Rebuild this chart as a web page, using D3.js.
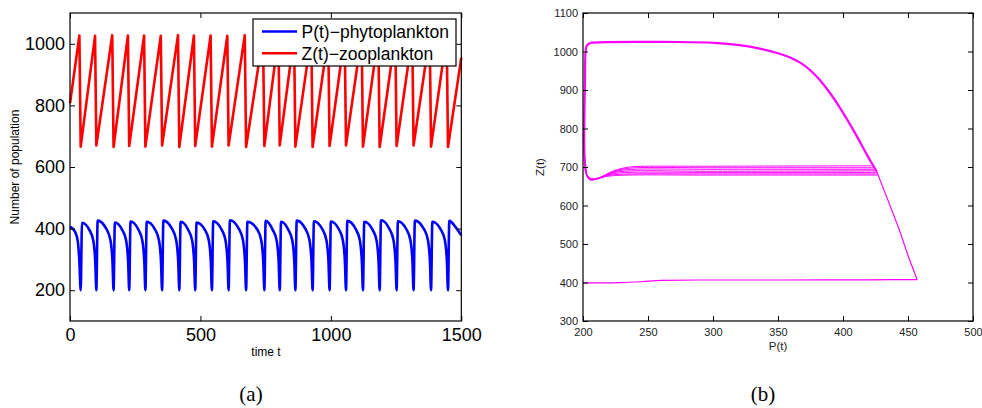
<!DOCTYPE html>
<html>
<head>
<meta charset="utf-8">
<script src="https://cdn.jsdelivr.net/npm/d3@7"></script>
<style>
  body { margin: 0; background: #fff; }
  text { font-family: "Liberation Sans", Arial, Helvetica, sans-serif; }
</style>
</head>
<body>
<div id="chart"></div>
<script>
// ---- data ----
// (a) time series, [t, value]
const zooplankton = [
  [0,807],[36,1027],[41,666],[96,1026],[101,670],[162,1028],[167,665],[222,1027],[227,668],
  [284,1027],[289,666],[348,1026],[353,670],[414,1028],[419,665],[475,1027],[480,668],
  [539,1027],[544,666],[603,1026],[608,670],[670,1028],[675,665],[740,1027],[745,668],
  [799,1026],[804,670],[859,1027],[864,666],[925,1028],[930,665],[990,1027],[995,668],
  [1053,1026],[1058,670],[1118,1027],[1123,666],[1182,1028],[1187,665],[1247,1027],[1252,668],
  [1312,1026],[1317,670],[1379,1027],[1384,666],[1444,1028],[1449,665],[1500,955]
];
const phytoplankton = [
  [0,406],[19,390],[30,358],[36,292],[41,200],
  [46,419],[74,396],[89,362],[97,290],[101,200],
  [106,426],[140,398],[155,363],[163,290],[167,200],
  [172,420],[200,396],[215,362],[223,290],[227,200],
  [232,423],[262,397],[277,362],[285,290],[289,200],
  [294,422],[326,397],[341,362],[349,290],[353,200],
  [358,426],[392,398],[407,363],[415,290],[419,200],
  [424,422],[453,396],[468,362],[476,290],[480,200],
  [485,420],[517,396],[532,362],[540,290],[544,200],
  [549,424],[581,397],[596,362],[604,290],[608,200],
  [613,427],[648,398],[663,363],[671,290],[675,200],
  [680,422],[718,397],[733,362],[741,290],[745,200],
  [750,425],[777,396],[792,362],[800,290],[804,200],
  [809,422],[837,396],[852,362],[860,290],[864,200],
  [869,426],[903,398],[918,363],[926,290],[930,200],
  [935,424],[968,397],[983,362],[991,290],[995,200],
  [1000,423],[1031,397],[1046,362],[1054,290],[1058,200],
  [1063,425],[1096,397],[1111,362],[1119,290],[1123,200],
  [1128,422],[1160,396],[1175,362],[1183,290],[1187,200],
  [1192,427],[1225,398],[1240,363],[1248,290],[1252,200],
  [1257,424],[1290,397],[1305,362],[1313,290],[1317,200],
  [1322,426],[1357,398],[1372,363],[1380,290],[1384,200],
  [1389,422],[1422,396],[1437,362],[1445,290],[1449,200],
  [1454,425],[1478,405],[1500,378]
];
const legendLabels = ['P(t)\u2212phytoplankton', 'Z(t)\u2212zooplankton'];
const xTicksA = [0, 500, 1000, 1500];
const yTicksA = [200, 400, 600, 800, 1000];

// (b) phase portrait, [P, Z]
const phaseBottom = [[200,399],[215,399],[228,399.5],[245,402],[260,405.5],[290,406.5],[350,406.5],
  [420,407],[457,407.5]];
const phaseRise = [[457,407.5],[450,470],[443,540],[435,610],[426,688]];
const phaseLeft = [[202,690],[201,740],[201,820],[201.5,920],[202,1000],[203,1016],[206,1023]];
const phaseArc = [[206,1023],[215,1024.5],[240,1025],[275,1025],[303,1023],[321,1017],[336,1008],
  [351,995],[360,984],[367,972],[374,955],[382,928],[390,893],[398,853],[410,785],[419,727],[426,688]];
const phaseLoops = [
  [[422,703],[300,702],[240,701],[232,698],[222,688],[212,672],[206,670],[203,680],[202,695]],
  [[423,698],[300,698],[236,697],[226,691],[214,673],[207,669],[203,678],[202,695]],
  [[424,694],[300,694],[234,693],[224,687],[213,672],[207,668],[203,679],[202,695]],
  [[425,690],[300,689],[232,689],[222,684],[212,671],[206,667],[203,678],[202,695]],
  [[426,686],[300,686],[230,685],[220,680],[211,670],[206,667],[203,678],[202,695]],
  [[426,682],[300,682],[228,681],[218,677],[210,669],[205,668],[203,679],[202,695]],
  [[427,679],[300,679],[226,678],[216,674],[209,667],[205,667],[202.5,680],[202,695]]
];
const xTicksB = [200, 250, 300, 350, 400, 450, 500];
const yTicksB = [300, 400, 500, 600, 700, 800, 900, 1000, 1100];

// ---- drawing ----
const svg = d3.select('#chart').append('svg')
  .attr('width', 982)
  .attr('height', 408);

const xA = d3.scaleLinear().domain([0, 1500]).range([70, 461.3]);
const yA = d3.scaleLinear().domain([100, 1100]).range([321, 13]);
const xB = d3.scaleLinear().domain([200, 500]).range([583, 973]);
const yB = d3.scaleLinear().domain([300, 1100]).range([321, 13]);

function box(x, y, xt, yt, size, pad, color) {
  const [x0, x1] = x.range(), [y0, y1] = y.range();
  const fmt = d3.format('d');
  const g = svg.append('g');
  g.append('g').attr('transform', `translate(0,${y0})`)
    .call(d3.axisBottom(x).tickValues(xt).tickFormat(fmt).tickSizeInner(-5).tickSizeOuter(0).tickPadding(pad));
  g.append('g').attr('transform', `translate(0,${y1})`)
    .call(d3.axisTop(x).tickValues(xt).tickSizeInner(-5).tickSizeOuter(0).tickFormat(''));
  g.append('g').attr('transform', `translate(${x0},0)`)
    .call(d3.axisLeft(y).tickValues(yt).tickFormat(fmt).tickSizeInner(-5).tickSizeOuter(0).tickPadding(5));
  g.append('g').attr('transform', `translate(${x1},0)`)
    .call(d3.axisRight(y).tickValues(yt).tickSizeInner(-5).tickSizeOuter(0).tickFormat(''));
  g.selectAll('.domain').remove();
  g.selectAll('.tick line').attr('stroke', '#000');
  g.selectAll('text')
    .attr('font-size', size)
    .attr('font-family', '"Liberation Sans", Arial, sans-serif')
    .attr('fill', color);
  g.append('rect')
    .attr('x', x0).attr('y', y1)
    .attr('width', x1 - x0).attr('height', y0 - y1)
    .attr('fill', 'none').attr('stroke', '#000').attr('stroke-width', 1.2);
}

// panel (a)
const lineA = d3.line().x(d => xA(d[0])).y(d => yA(d[1]));
svg.append('path')
  .datum(zooplankton)
  .attr('d', lineA)
  .attr('fill', 'none').attr('stroke', '#ff0000').attr('stroke-width', 2.6)
  .attr('stroke-linejoin', 'round');
svg.append('path')
  .datum(phytoplankton)
  .attr('d', lineA.curve(d3.curveMonotoneX))
  .attr('fill', 'none').attr('stroke', '#0000ff').attr('stroke-width', 2.6)
  .attr('stroke-linejoin', 'round');

box(xA, yA, xTicksA, yTicksA, 18, 7, '#000');

svg.append('text')
  .attr('transform', 'translate(18.5,167) rotate(-90)')
  .attr('text-anchor', 'middle').attr('font-size', 12)
  .text('Number of population');
svg.append('text')
  .attr('x', 266).attr('y', 356)
  .attr('text-anchor', 'middle').attr('font-size', 12)
  .text('time t');

// legend
const legend = svg.append('g');
legend.append('rect')
  .attr('x', 253).attr('y', 19).attr('width', 203).attr('height', 47)
  .attr('fill', '#fff').attr('stroke', '#000').attr('stroke-width', 1.2);
const legendColors = ['#0000ff', '#ff0000'];
legendLabels.forEach((label, i) => {
  const cy = 31.5 + i * 21.8;
  legend.append('line')
    .attr('x1', 262).attr('x2', 297).attr('y1', cy).attr('y2', cy)
    .attr('stroke', legendColors[i]).attr('stroke-width', 2.6);
  legend.append('text')
    .attr('x', 301.5).attr('y', cy + 6.3)
    .attr('font-size', 17.5)
    .text(label);
});

// panel (b)
const lineB = d3.line().x(d => xB(d[0])).y(d => yB(d[1]));
const magenta = '#ff00ff';
svg.append('path').datum(phaseBottom).attr('d', lineB.curve(d3.curveMonotoneX))
  .attr('fill', 'none').attr('stroke', magenta).attr('stroke-width', 1.2);
svg.append('path').datum(phaseRise).attr('d', lineB.curve(d3.curveLinear))
  .attr('fill', 'none').attr('stroke', magenta).attr('stroke-width', 1.2);
phaseLoops.forEach(loop => {
  svg.append('path').datum(loop).attr('d', lineB.curve(d3.curveCatmullRom.alpha(0.5)))
    .attr('fill', 'none').attr('stroke', magenta).attr('stroke-width', 1);
});
svg.append('path').datum(phaseLeft).attr('d', lineB.curve(d3.curveCatmullRom.alpha(0.5)))
  .attr('fill', 'none').attr('stroke', magenta).attr('stroke-width', 2.2);
svg.append('path').datum(phaseArc).attr('d', lineB.curve(d3.curveBasis))
  .attr('fill', 'none').attr('stroke', magenta).attr('stroke-width', 2.2);

box(xB, yB, xTicksB, yTicksB, 11, 7, '#222');

svg.append('text')
  .attr('x', 778).attr('y', 349.5)
  .attr('text-anchor', 'middle').attr('font-size', 11.5).attr('fill', '#222')
  .text('P(t)');
svg.append('text')
  .attr('transform', 'translate(544,167) rotate(-90)')
  .attr('text-anchor', 'middle').attr('font-size', 11.5).attr('fill', '#222')
  .text('Z(t)');

// captions
svg.append('text')
  .attr('x', 251).attr('y', 401)
  .attr('text-anchor', 'middle').attr('font-size', 21)
  .style('font-family', '"Liberation Serif", "Times New Roman", serif')
  .text('(a)');
svg.append('text')
  .attr('x', 763).attr('y', 401)
  .attr('text-anchor', 'middle').attr('font-size', 21)
  .style('font-family', '"Liberation Serif", "Times New Roman", serif')
  .text('(b)');
</script>
</body>
</html>
